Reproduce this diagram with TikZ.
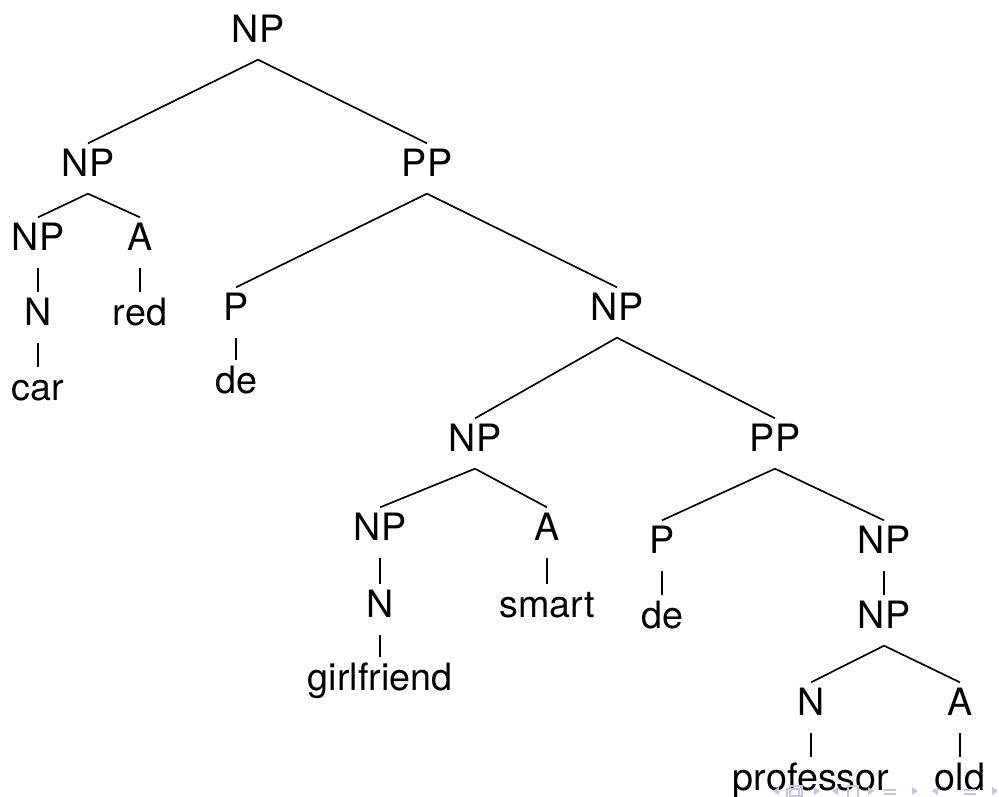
\documentclass[tikz,border=0pt]{standalone}
\usepackage{fontspec}
\setmainfont{TeX Gyre Heros}
\usetikzlibrary{positioning, calc}

\definecolor{navblue}{RGB}{196,198,232}

\begin{document}
\begin{tikzpicture}[
    x=0.3pt, y=-0.3pt,
    % Styles
    cat/.style={ % Category or word node
        anchor=base,
        inner sep=0pt,
        text height=9.6pt,
        text depth=5.1pt,
        font=\fontsize{11.3}{13.5}\selectfont
    },
    branch/.style={
        line width=0.5pt
    },
    nav/.style={
        fill=navblue,
        draw=none
    }
]
    \useasboundingbox (0,0) rectangle (999,796);
    \clip (0,0) rectangle (999,796);

    % Top
    \node[cat] (root) at (258,42) {NP};
    \node[cat] (npL) at (88,176) {NP};
    \node[cat] (ppT) at (427,176) {PP};

    % Left subtree
    \node[cat] (npL1) at (38,250) {NP};
    \node[cat] (aL) at (140,250) {A};
    \node[cat] (nL) at (38,325) {N};
    \node[cat] (red) at (140,325) {red};
    \node[cat] (car) at (38,400) {car};

    % Right subtree
    \node[cat] (pT) at (236,320) {P};
    \node[cat] (deT) at (236,393) {de};
    \node[cat] (npR) at (617,320) {NP};
    \node[cat] (npM) at (475,451) {NP};
    \node[cat] (ppM) at (775,451) {PP};

    \node[cat] (npM1) at (380,540) {NP};
    \node[cat] (aM) at (547,540) {A};
    \node[cat] (nM) at (380,617) {N};
    \node[cat] (smart) at (547,617) {smart};
    \node[cat] (girl) at (380,690) {girlfriend};

    \node[cat] (pM) at (662,553) {P};
    \node[cat] (deM) at (662,628) {de};
    \node[cat] (npB) at (884,553) {NP};
    \node[cat] (npB1) at (884,628) {NP};
    \node[cat] (nB) at (811,715) {N};
    \node[cat] (aB) at (960,715) {A};
    \node[cat] (prof) at (811,790) {professor};
    \node[cat] (old) at (960,790) {old};

    % Branches
    \foreach \p/\c in {root/npL, root/ppT, npL/npL1, npL/aL, npL1/nL, aL/red,
                       nL/car, ppT/pT, ppT/npR, pT/deT, npR/npM, npR/ppM,
                       npM/npM1, npM/aM, npM1/nM, aM/smart, nM/girl,
                       ppM/pM, ppM/npB, pM/deM, npB/npB1, npB1/nB, npB1/aB,
                       nB/prof, aB/old} {
        \draw[branch] (\p.south) -- (\c.north);
    }

    % Navigation symbols
    \fill[nav] (773,791) -- (779,787) -- (779,795) -- cycle;
    \draw[navblue, line width=0.8pt] (787,789) rectangle (799,799);
    \draw[navblue, line width=0.8pt] (790,786) rectangle (802,796);
    \fill[nav] (814,787) -- (820,791) -- (814,795) -- cycle;
    \fill[nav] (832,791) -- (838,787) -- (838,795) -- cycle;
    \draw[navblue, line width=0.8pt] (848,786) rectangle (858,799);
    \fill[nav] (868,787) -- (874,791) -- (868,795) -- cycle;
    \fill[nav] (884,789) rectangle (896,790.5);
    \fill[nav] (884,793) rectangle (896,794.5);
    \fill[nav] (912,787) -- (918,791) -- (912,795) -- cycle;
    \fill[nav] (932,791) -- (938,787) -- (938,795) -- cycle;
    \fill[nav] (964,789) rectangle (976,790.5);
    \fill[nav] (964,793) rectangle (976,794.5);
    \fill[nav] (992,787) -- (998,791) -- (992,795) -- cycle;
\end{tikzpicture}
\end{document}
